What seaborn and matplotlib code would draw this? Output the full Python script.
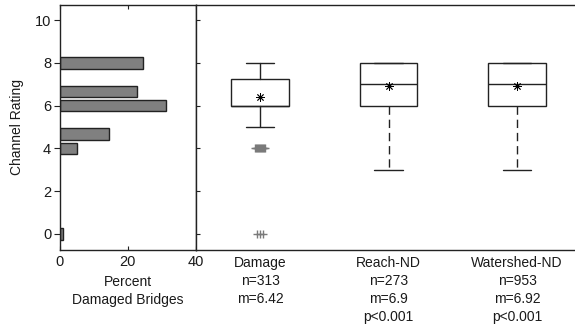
import numpy as np
import pandas as pd
import matplotlib
matplotlib.use('Agg')
import matplotlib.pyplot as plt
import seaborn as sns

#%% Data
rating = [0, 4, 4.67, 6, 6.67, 8]
pct_damaged = [0.9, 5.0, 14.5, 31.4, 22.8, 24.5]

groups = ['Damage', 'Reach-ND', 'Watershed-ND']
n_obs = [313, 273, 953]
mean_rating = [6.42, 6.9, 6.92]
p_text = ['', 'p<0.001', 'p<0.001']
q1 = [6, 6, 6]
median = [6, 7, 7]
q3 = [7.25, 8, 8]
whis_lo = [5, 3, 3]
whis_hi = [8, 8, 8]
# outliers of the Damage group (value, number of marks drawn)
outlier_vals = [4, 0]
outlier_marks = [11, 3]

#%% Style
sns.set_style('ticks')
plt.rcParams['font.family'] = ['Liberation Sans', 'DejaVu Sans']
plt.rcParams['font.size'] = 10
txt_col = '#1a1a1a'
line_col = '#222222'

fig = plt.figure(figsize=(5.75, 3.31), dpi=100)
W, H = 575, 331
x0, x1, x2 = 59.5, 195.7, 575
ytop, ybot = 5.3, 249.5
ax1 = fig.add_axes([x0 / W, (H - ybot) / H, (x1 - x0) / W, (ybot - ytop) / H])
ax2 = fig.add_axes([x1 / W, (H - ybot) / H, (x2 - x1) / W, (ybot - ytop) / H])

#%% Left panel: horizontal bars
df_bar = pd.DataFrame({'rating': rating, 'pct': pct_damaged})
sns.barplot(data=df_bar, x='pct', y='rating', orient='h', native_scale=True,
            width=0.8, color='#808080', saturation=1, edgecolor=line_col,
            linewidth=1, ax=ax1)
ax1.set_xlim(0, 40)
ax1.set_ylim(-0.73, 10.69)
ax1.set_xticks([0, 20, 40])
ax1.set_yticks([0, 2, 4, 6, 8, 10])
ax1.tick_params(axis='x', direction='in', top=True, length=3, pad=4,
                colors=line_col, labelcolor=txt_col, labelsize=10.5)
ax1.tick_params(axis='y', direction='out', length=4, pad=2,
                colors=line_col, labelcolor=txt_col, labelsize=10.5)
ax1.set_xlabel('Percent\nDamaged Bridges', color=txt_col, fontsize=10,
               linespacing=1.4, labelpad=4)
ax1.set_ylabel('Channel Rating', color=txt_col, fontsize=10, labelpad=8)
for s in ax1.spines.values():
    s.set_visible(True)
    s.set_color(line_col)
    s.set_linewidth(1)

#%% Right panel: box plots
stats = []
for i, g in enumerate(groups):
    lab = f'{g}\nn={n_obs[i]}\nm={mean_rating[i]}'
    if p_text[i]:
        lab += '\n' + p_text[i]
    stats.append({'label': lab, 'q1': q1[i], 'med': median[i], 'q3': q3[i],
                  'whislo': whis_lo[i], 'whishi': whis_hi[i],
                  'mean': mean_rating[i], 'fliers': []})

pos = np.arange(len(groups))
bp = ax2.bxp(stats, positions=pos, widths=0.45, capwidths=0.22,
             showmeans=True, showfliers=False, patch_artist=True,
             boxprops=dict(facecolor='white', edgecolor=line_col, linewidth=1),
             medianprops=dict(color=line_col, linewidth=1),
             whiskerprops=dict(color=line_col, linewidth=1),
             capprops=dict(color=line_col, linewidth=1),
             meanprops=dict(marker=(8, 2, 0), markersize=6,
                            markeredgecolor='black', markeredgewidth=0.6))
for w in bp['whiskers'][2:]:
    w.set_linestyle((0, (6, 3.5)))

# outliers of Damage drawn as gray pluses spread around the box centre
for val, k in zip(outlier_vals, outlier_marks):
    spread = 0.042 if k > 3 else 0.026
    offs = np.linspace(-spread, spread, k) if k > 3 else np.array([-1, 0, 1]) * spread
    ax2.scatter(pos[0] + offs, np.repeat(val, k), marker='+', s=30,
                color='#7a7a7a', linewidths=1, zorder=3)

ax2.set_xlim(-0.5, 2.45)
ax2.set_ylim(ax1.get_ylim())
ax2.set_yticks([0, 2, 4, 6, 8, 10])
ax2.set_yticklabels([])
ax2.tick_params(axis='y', direction='in', length=3, colors=line_col)
ax2.tick_params(axis='x', length=0, pad=5, labelcolor=txt_col, labelsize=10)
for t in ax2.get_xticklabels():
    t.set_linespacing(1.35)
    t.set_verticalalignment('top')
for side in ['left', 'top', 'bottom']:
    ax2.spines[side].set_color(line_col)
    ax2.spines[side].set_linewidth(1)
ax2.spines['right'].set_visible(False)

fig.savefig('out.png', dpi=100)
